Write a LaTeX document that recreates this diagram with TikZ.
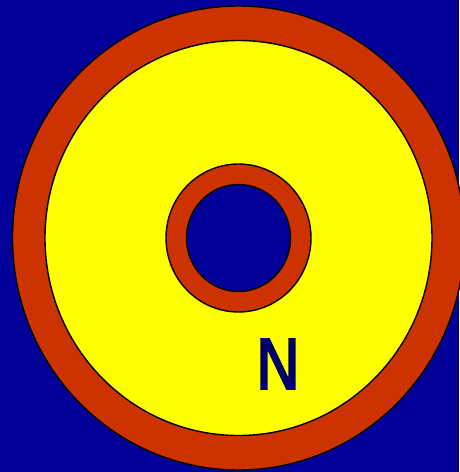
\documentclass[tikz,border=0pt]{standalone}
\usepackage{fontspec}
\setmainfont{DejaVu Sans}
\newfontfamily\letterfont[FakeBold=2.5]{DejaVu Sans}
\definecolor{bgblue}{HTML}{000099}
\definecolor{ringred}{HTML}{CC3300}
\definecolor{discyellow}{HTML}{FFFF00}
\definecolor{letternavy}{HTML}{000066}
\begin{document}
\begin{tikzpicture}[x=1pt,y=-1pt,
  outline/.style={draw=black,line width=1.4pt}]
\useasboundingbox (0,0) rectangle (459,472);
\fill[bgblue] (0,0) rectangle (459,472);
\coordinate (c) at (238.5,238);
\path[outline,fill=ringred] (c) ellipse [x radius=226,y radius=232];
\path[outline,fill=discyellow] (c) ellipse [x radius=193.5,y radius=197.5];
\path[outline,fill=ringred] (c) ellipse [x radius=72.5,y radius=74];
\path[outline,fill=bgblue] (c) ellipse [x radius=52,y radius=53.5];
\node[inner sep=0pt,text=letternavy] (letter) at (278,364) {\resizebox{46pt}{50pt}{\letterfont\fontsize{68}{70}\selectfont N}};
\end{tikzpicture}
\end{document}
